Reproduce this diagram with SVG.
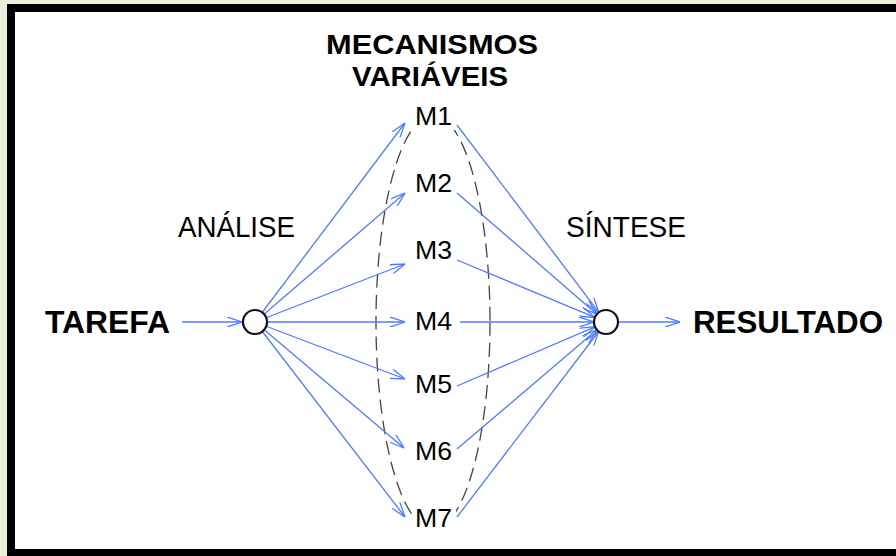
<svg xmlns="http://www.w3.org/2000/svg" width="896" height="556" viewBox="0 0 896 556">
  <style>
    .bold { font-family: "Liberation Sans", Arial, sans-serif; font-weight: bold; fill: #000; }
    .reg { font-family: "Liberation Sans", Arial, sans-serif; fill: #000; }
    .flow { stroke: #4f7bff; stroke-width: 1.3; fill: none; }
    .node { fill: #fff; stroke: #111; stroke-width: 2.2; }
    .dash { fill: none; stroke: #444; stroke-width: 1.3; stroke-dasharray: 14 7; }
  </style>
  <defs>
    <marker id="arr" viewBox="0 0 15 10" refX="15" refY="5" markerWidth="15" markerHeight="10" markerUnits="userSpaceOnUse" orient="auto">
      <path d="M0,0 L15,5 L0,10" fill="none" stroke="#4f7bff" stroke-width="1.3"/>
    </marker>
  </defs>

  <!-- frame -->
  <rect x="0" y="0" width="896" height="556" fill="#e9f0da"/>
  <rect x="7" y="4" width="889" height="552" fill="#000"/>
  <rect x="15" y="12" width="881" height="537" fill="#fff"/>

  <!-- dashed envelope around the mechanisms -->
  <ellipse class="dash" cx="433" cy="322" rx="57" ry="207"/>

  <!-- connectors -->
  <g id="connectors">
    <line class="flow" x1="182" y1="322" x2="242" y2="322" marker-end="url(#arr)"/>
    <line class="flow" x1="255" y1="322" x2="405" y2="123" marker-end="url(#arr)"/>
    <line class="flow" x1="255" y1="322" x2="405" y2="193" marker-end="url(#arr)"/>
    <line class="flow" x1="255" y1="322" x2="405" y2="264" marker-end="url(#arr)"/>
    <line class="flow" x1="255" y1="322" x2="405" y2="322" marker-end="url(#arr)"/>
    <line class="flow" x1="255" y1="322" x2="405" y2="379" marker-end="url(#arr)"/>
    <line class="flow" x1="255" y1="322" x2="404" y2="448" marker-end="url(#arr)"/>
    <line class="flow" x1="255" y1="322" x2="405" y2="517" marker-end="url(#arr)"/>
    <line class="flow" x1="457" y1="125" x2="598.8" y2="312.4" marker-end="url(#arr)"/>
    <line class="flow" x1="457" y1="193" x2="596.9" y2="314.2" marker-end="url(#arr)"/>
    <line class="flow" x1="457" y1="260" x2="594.9" y2="317.4" marker-end="url(#arr)"/>
    <line class="flow" x1="460" y1="322" x2="594" y2="322" marker-end="url(#arr)"/>
    <line class="flow" x1="457" y1="386" x2="595.0" y2="326.9" marker-end="url(#arr)"/>
    <line class="flow" x1="457" y1="449" x2="596.9" y2="329.8" marker-end="url(#arr)"/>
    <line class="flow" x1="457" y1="517" x2="598.7" y2="331.5" marker-end="url(#arr)"/>
    <line class="flow" x1="618" y1="322" x2="680" y2="322" marker-end="url(#arr)"/>
  </g>

  <!-- nodes -->
  <g id="tarefa"><text class="bold" x="45" y="333" font-size="32" textLength="125" lengthAdjust="spacingAndGlyphs">TAREFA</text></g>
  <g id="analise-node"><circle class="node" cx="255" cy="322" r="12"/></g>
  <g id="sintese-node"><circle class="node" cx="606" cy="322" r="12"/></g>
  <g id="resultado"><text class="bold" x="693" y="333" font-size="32" textLength="190" lengthAdjust="spacingAndGlyphs">RESULTADO</text></g>

  <g id="titulo">
    <text class="bold" x="432" y="54" font-size="28" text-anchor="middle" textLength="212" lengthAdjust="spacingAndGlyphs">MECANISMOS</text>
    <text class="bold" x="430" y="86" font-size="28" text-anchor="middle" textLength="156" lengthAdjust="spacingAndGlyphs">VARIÁVEIS</text>
  </g>
  <g id="analise-label"><text class="reg" x="178" y="237" font-size="29" textLength="117" lengthAdjust="spacingAndGlyphs">ANÁLISE</text></g>
  <g id="sintese-label"><text class="reg" x="566" y="237" font-size="29" textLength="120" lengthAdjust="spacingAndGlyphs">SÍNTESE</text></g>

  <g id="m1"><rect x="412" y="104" width="44" height="26" fill="#fff"/><text class="reg" x="415" y="125" font-size="26" textLength="37" lengthAdjust="spacingAndGlyphs">M1</text></g>
  <g id="m2"><text class="reg" x="415" y="192" font-size="26" textLength="37" lengthAdjust="spacingAndGlyphs">M2</text></g>
  <g id="m3"><text class="reg" x="415" y="259" font-size="26" textLength="37" lengthAdjust="spacingAndGlyphs">M3</text></g>
  <g id="m4"><text class="reg" x="415" y="330" font-size="26" textLength="37" lengthAdjust="spacingAndGlyphs">M4</text></g>
  <g id="m5"><text class="reg" x="415" y="393" font-size="26" textLength="37" lengthAdjust="spacingAndGlyphs">M5</text></g>
  <g id="m6"><text class="reg" x="415" y="460" font-size="26" textLength="37" lengthAdjust="spacingAndGlyphs">M6</text></g>
  <g id="m7"><rect x="412" y="508" width="44" height="26" fill="#fff"/><text class="reg" x="415" y="527" font-size="26" textLength="37" lengthAdjust="spacingAndGlyphs">M7</text></g>
</svg>
